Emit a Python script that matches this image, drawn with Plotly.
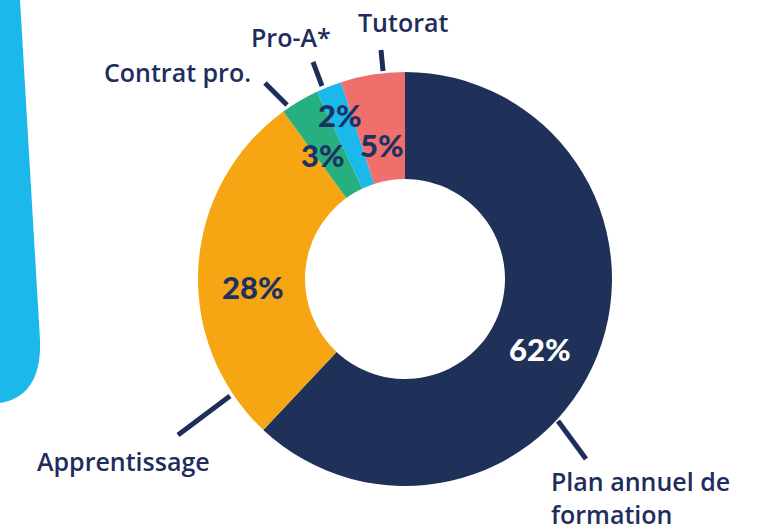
import math
import plotly.graph_objects as go

# ---- data ----
categories = ["Plan annuel de<br>formation", "Apprentissage", "Contrat pro.", "Pro-A*", "Tutorat"]
values = [62, 28, 3, 2, 5]
pct_labels = ["62%", "28%", "3%", "2%", "5%"]

# ---- style ----
colors = ["#1f3159", "#f5a612", "#27b07f", "#1bb8eb", "#ee6f6c"]
pct_colors = ["#ffffff", "#1d3163", "#1d3163", "#1d3163", "#1d3163"]
pct_radius = [152, 152, 149, 176, 136]    # px from centre
pct_angle_shift = [6, -6.5, -3, 0, -0.7]  # degrees
NAVY = "#1e2d5c"
W, H = 766, 529
CX, CY, R = 405, 279, 207
HOLE = 0.483

def px(x):
    return x / W

def py(y):
    return 1 - y / H

fig = go.Figure()
fig.add_trace(go.Pie(
    labels=categories, values=values, sort=False, direction="clockwise",
    rotation=0, hole=HOLE, textinfo="none", hoverinfo="label+percent",
    marker=dict(colors=colors, line=dict(width=0)),
    domain=dict(x=[px(CX - R), px(CX + R)], y=[py(CY + R), py(CY - R)]),
    showlegend=False,
))

# percentage labels placed near each slice's mid-angle
total = sum(values)
cum = 0
annotations = []
for v, t, c, rr, da in zip(values, pct_labels, pct_colors, pct_radius, pct_angle_shift):
    mid = (cum + v / 2) / total * 2 * math.pi + math.radians(da)
    cum += v
    x = CX + rr * math.sin(mid)
    y = CY - rr * math.cos(mid)
    annotations.append(dict(
        x=px(x), y=py(y), xref="paper", yref="paper", text=t, showarrow=False,
        font=dict(family="Lato", size=31, color=c, weight=900),
        xanchor="center", yanchor="middle",
    ))

# category labels (positions are style)
label_pos = [
    (549, 497, "left"),
    (123, 461, "center"),
    (177, 72, "center"),
    (291, 37, "center"),
    (403, 22, "center"),
]
for cat, (x, y, anc) in zip(categories, label_pos):
    annotations.append(dict(
        x=px(x), y=py(y), xref="paper", yref="paper", text=cat, showarrow=False,
        font=dict(family="Open Sans", size=25, color=NAVY, weight=600),
        xanchor=anc, yanchor="middle", align="left",
    ))

# leader lines
leaders = [
    ((558, 421), (586, 459)),
    ((230, 396), (178, 435)),
    ((287, 105), (265, 83)),
    ((322, 86), (313, 62)),
    ((383, 71), (381, 50)),
]
shapes = []
for (x0, y0), (x1, y1) in leaders:
    shapes.append(dict(type="line", xref="paper", yref="paper",
                       x0=px(x0), y0=py(y0), x1=px(x1), y1=py(y1),
                       line=dict(color=NAVY, width=5)))

# decorative blue band on the left
path = "M {},{} L {},{} L {},{} Q {},{} {},{} Z".format(
    px(0), py(0), px(20), py(0), px(40), py(340),
    px(42), py(396), px(0), py(403))
shapes.append(dict(type="path", xref="paper", yref="paper", path=path,
                   fillcolor="#1bb8eb", line=dict(width=0), layer="below"))

fig.update_layout(
    width=W, height=H, margin=dict(l=0, r=0, t=0, b=0),
    paper_bgcolor="white", plot_bgcolor="white",
    annotations=annotations, shapes=shapes,
)
fig.write_html("out.html", config={"displayModeBar": False},
               post_script="document.body.style.margin='0';document.body.style.overflow='hidden';")
